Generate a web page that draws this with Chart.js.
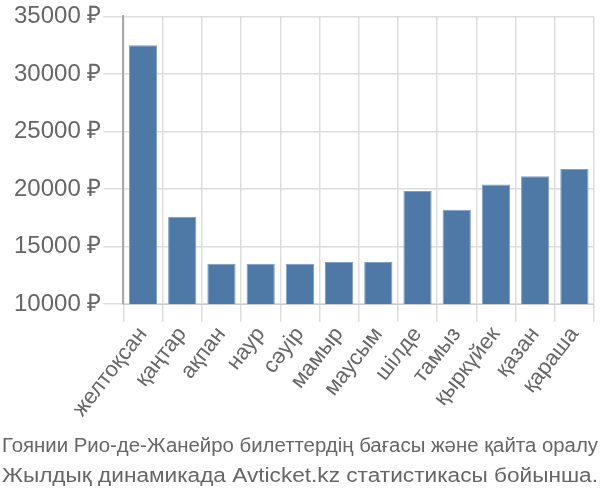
<!DOCTYPE html>
<html>
<head>
<meta charset="utf-8">
<script src="https://cdn.jsdelivr.net/npm/chart.js@4/dist/chart.umd.min.js"></script>
<style>
  html, body { margin: 0; padding: 0; background: #fff; }
  #wrap { width: 600px; height: 500px; }
</style>
</head>
<body>
<div id="wrap"><canvas id="priceChart"></canvas></div>
<script>
// --- DATA ---
const months = ['желтоқсан', 'қаңтар', 'ақпан', 'наур', 'сәуір', 'мамыр', 'маусым', 'шілде', 'тамыз', 'қыркүйек', 'қазан', 'қараша'];
const prices = [32500, 17600, 13500, 13500, 13500, 13650, 13650, 19830, 18190, 20400, 21120, 21750];
const titleLines = ['Гоянии Рио-де-Жанейро билеттердің бағасы және қайта оралу', 'Жылдық динамикада Avticket.kz статистикасы бойынша.'];

// caption under the chart, squeezed to span the width (narrow face)
const captionPlugin = {
  id: 'caption',
  afterDraw(chart) {
    const ctx = chart.ctx;
    const baselines = [452, 482];
    ctx.save();
    ctx.font = '20px "Liberation Sans"';
    ctx.fillStyle = '#666';
    ctx.textAlign = 'center';
    ctx.textBaseline = 'alphabetic';
    titleLines.forEach((line, i) => {
      const w = ctx.measureText(line).width;
      ctx.save();
      ctx.translate(chart.width / 2, baselines[i]);
      ctx.scale(596 / w, 1);
      ctx.fillText(line, 0, 0);
      ctx.restore();
    });
    ctx.restore();
  }
};

// --- CHART ---
new Chart(document.getElementById('priceChart'), {
  type: 'bar',
  data: {
    labels: months,
    datasets: [{
      data: prices,
      backgroundColor: '#4e79a7',
      borderColor: '#7f9fc3',
      borderWidth: 1,
      categoryPercentage: 1,
      barPercentage: 0.72
    }]
  },
  plugins: [captionPlugin],
  options: {
    responsive: true,
    maintainAspectRatio: false,
    animation: false,
    layout: { padding: { top: 6, right: 6, left: 12, bottom: 78 } },
    plugins: {
      legend: { display: false },
      tooltip: { enabled: false }
    },
    scales: {
      x: {
        grid: { color: '#ddd', lineWidth: 1.5, tickLength: 18, offset: true },
        border: { color: '#ccc' },
        ticks: {
          color: '#666',
          font: { family: 'Liberation Sans', size: 22 },
          minRotation: 52,
          maxRotation: 52,
          padding: 0
        }
      },
      y: {
        min: 10000,
        max: 35000,
        grid: { color: '#ddd', lineWidth: 1.5, tickLength: 20 },
        border: { color: '#aaa', width: 2 },
        ticks: {
          stepSize: 5000,
          color: '#666',
          font: { family: 'Liberation Sans', size: 24 },
          padding: 2,
          callback: v => v + ' ₽'
        }
      }
    }
  }
});
</script>
</body>
</html>
